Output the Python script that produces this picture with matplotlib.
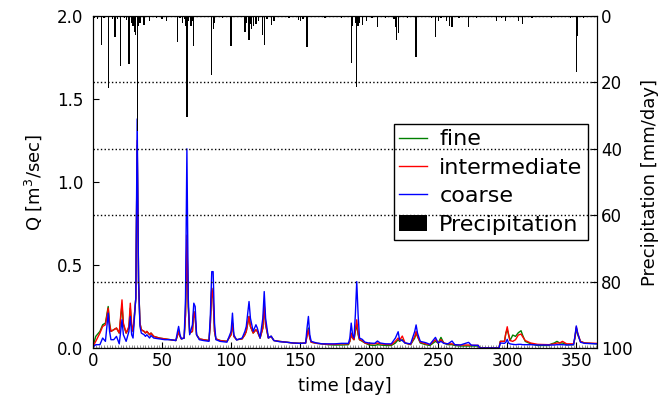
import matplotlib
matplotlib.use("Agg")
import matplotlib.pyplot as plt
from matplotlib.ticker import MultipleLocator

# ---- data ----
days = [0, 2, 5, 7, 9, 11, 12, 13, 15, 17, 19, 21, 22, 24, 26, 27, 28, 29, 31, 32, 33, 34, 35,
        37, 38, 39, 41, 42, 44, 48, 52, 56, 60, 61, 62, 63, 64, 66, 67, 68, 69, 70, 72, 73, 74,
        75, 77, 80, 84, 85, 86, 87, 88, 89, 92, 97, 100, 101, 102, 104, 108, 110, 111, 113,
        114, 116, 118, 119, 121, 123, 124, 125, 127, 129, 131, 135, 140, 145, 150, 154, 155,
        156, 157, 158, 162, 166, 170, 175, 180, 185, 186, 187, 188, 189, 190, 191, 192, 193,
        195, 197, 200, 204, 206, 208, 212, 216, 219, 221, 222, 224, 226, 230, 233, 234, 235,
        237, 241, 244, 248, 250, 252, 254, 257, 260, 262, 266, 272, 274, 279, 280, 294, 295,
        298, 299, 300, 301, 302, 304, 306, 308, 310, 311, 313, 317, 322, 330, 332, 334, 336,
        338, 340, 343, 348, 349, 350, 351, 353, 356, 365]

fine = [0.01, 0.07, 0.10, 0.14, 0.15, 0.25, 0.15, 0.10, 0.11, 0.12, 0.09, 0.26, 0.14, 0.09,
        0.12, 0.24, 0.13, 0.10, 0.30, 1.22, 0.40, 0.15, 0.11,
        0.10, 0.09, 0.10, 0.08, 0.09, 0.07, 0.06, 0.055, 0.05, 0.045, 0.07, 0.10, 0.07, 0.055,
        0.06, 0.20, 0.65, 0.25, 0.09, 0.10, 0.22, 0.18,
        0.08, 0.055, 0.05, 0.045, 0.15, 0.36, 0.30, 0.10, 0.055, 0.045, 0.04, 0.08, 0.15, 0.07,
        0.05, 0.055, 0.08, 0.10, 0.19,
        0.13, 0.09, 0.11, 0.10, 0.06, 0.12, 0.26, 0.14, 0.06, 0.07, 0.045, 0.04, 0.035, 0.03,
        0.028, 0.03, 0.08,
        0.12, 0.06, 0.035, 0.028, 0.025, 0.02, 0.018, 0.018, 0.02, 0.04, 0.08, 0.06, 0.05,
        0.10, 0.14, 0.08, 0.05,
        0.04, 0.03, 0.018, 0.015, 0.02, 0.018, 0.015, 0.015, 0.03, 0.05, 0.04, 0.05, 0.03,
        0.02, 0.06, 0.09, 0.07,
        0.03, 0.02, 0.015, 0.04, 0.03, 0.064, 0.03, 0.02, 0.02, 0.015, 0.012, 0.012, 0.012,
        0.012, 0.0, 0.0, 0.04,
        0.04, 0.09, 0.11, 0.08, 0.045, 0.078, 0.07, 0.092, 0.104, 0.08, 0.04, 0.025, 0.015,
        0.015, 0.025, 0.03, 0.04,
        0.03, 0.03, 0.02, 0.02, 0.06, 0.12, 0.08, 0.04, 0.03, 0.025]

intermediate = [0.01, 0.04, 0.09, 0.13, 0.14, 0.24, 0.14, 0.10, 0.11, 0.12, 0.09, 0.29, 0.15,
                0.09, 0.13, 0.27, 0.14, 0.10, 0.30, 1.25, 0.40, 0.15, 0.11,
                0.10, 0.09, 0.10, 0.08, 0.09, 0.07, 0.06, 0.055, 0.05, 0.045, 0.07, 0.10, 0.07,
                0.055, 0.06, 0.20, 0.68, 0.25, 0.09, 0.10, 0.22, 0.18,
                0.08, 0.055, 0.05, 0.045, 0.15, 0.36, 0.30, 0.10, 0.055, 0.045, 0.04, 0.08, 0.15,
                0.07, 0.05, 0.055, 0.08, 0.10, 0.19,
                0.13, 0.09, 0.11, 0.10, 0.06, 0.12, 0.26, 0.14, 0.06, 0.07, 0.045, 0.04, 0.035,
                0.03, 0.028, 0.03, 0.07,
                0.11, 0.06, 0.035, 0.028, 0.025, 0.022, 0.022, 0.025, 0.025, 0.04, 0.09, 0.06,
                0.05, 0.11, 0.17, 0.09, 0.05,
                0.045, 0.03, 0.025, 0.025, 0.03, 0.025, 0.022, 0.02, 0.04, 0.06, 0.045, 0.072,
                0.03, 0.022, 0.07, 0.10, 0.07,
                0.035, 0.025, 0.02, 0.05, 0.03, 0.05, 0.03, 0.025, 0.025, 0.02, 0.018, 0.018,
                0.016, 0.016, 0.0, 0.0, 0.04,
                0.04, 0.09, 0.128, 0.08, 0.045, 0.04, 0.05, 0.078, 0.084, 0.07, 0.045, 0.03,
                0.022, 0.02, 0.022, 0.025, 0.03,
                0.03, 0.04, 0.025, 0.025, 0.06, 0.127, 0.09, 0.04, 0.03, 0.028]

coarse = [0.005, 0.02, 0.02, 0.06, 0.04, 0.21, 0.10, 0.05, 0.05, 0.07, 0.025, 0.17, 0.08, 0.04,
          0.10, 0.19, 0.08, 0.06, 0.30, 1.38, 0.40, 0.13, 0.09,
          0.08, 0.07, 0.08, 0.06, 0.075, 0.06, 0.055, 0.05, 0.05, 0.045, 0.09, 0.13, 0.08,
          0.055, 0.06, 0.30, 1.20, 0.30, 0.08, 0.14, 0.27, 0.25,
          0.08, 0.05, 0.045, 0.04, 0.20, 0.46, 0.46, 0.15, 0.05, 0.04, 0.035, 0.10, 0.21, 0.08,
          0.048, 0.06, 0.10, 0.13, 0.28,
          0.18, 0.10, 0.14, 0.12, 0.06, 0.18, 0.34, 0.18, 0.06, 0.072, 0.045, 0.038, 0.035,
          0.03, 0.028, 0.03, 0.12,
          0.19, 0.08, 0.04, 0.03, 0.025, 0.025, 0.025, 0.028, 0.028, 0.06, 0.15, 0.08, 0.06,
          0.20, 0.40, 0.20, 0.06,
          0.052, 0.035, 0.03, 0.028, 0.042, 0.03, 0.025, 0.025, 0.06, 0.098, 0.05, 0.045, 0.03,
          0.025, 0.10, 0.139, 0.09,
          0.04, 0.032, 0.022, 0.064, 0.03, 0.04, 0.028, 0.025, 0.042, 0.02, 0.018, 0.034,
          0.017, 0.016, 0.0, 0.0, 0.03,
          0.028, 0.035, 0.052, 0.03, 0.025, 0.022, 0.02, 0.022, 0.022, 0.02, 0.02, 0.02, 0.018,
          0.018, 0.018, 0.018, 0.02,
          0.02, 0.02, 0.018, 0.02, 0.07, 0.133, 0.09, 0.035, 0.028, 0.025]

precip_days = [1, 3, 6, 8, 11, 14, 16, 18, 20, 23, 24, 26, 28, 29, 30, 31, 32, 33, 34, 37, 41,
               46, 50, 53, 57, 61, 63, 65, 66, 67, 68, 69, 71, 72, 73, 79, 86, 87, 88, 94, 100,
               106, 110, 111, 113, 114, 115, 116, 118, 120, 123, 124, 126, 129, 131, 136, 142,
               146, 149, 150, 152, 155, 161, 168, 174, 180, 187, 188, 190, 191, 192, 193, 195,
               198, 202, 206, 212, 218, 219, 220, 221, 228, 234, 240, 245, 248, 250, 252, 256,
               258, 260, 265, 272, 278, 285, 292, 296, 299, 305, 308, 311, 318, 325, 332, 340,
               346, 350, 351, 355, 360]
precip_mm = [0.5, 1, 8.8, 0.5, 21.8, 1, 6.3, 0.8, 15, 0.5, 1.2, 14.5, 2, 3, 4.8, 5.7, 34.6, 3,
             2, 2.6, 1.6, 0.5, 1.0, 1.5, 0.4, 7.8, 0.5, 2, 1, 3, 30.3, 1.5, 3, 1.5, 9.1, 0.4,
             17.8, 4, 2, 0.5, 9.1, 0.4, 4.7, 2, 7.3, 2.5, 4, 3, 2.5, 1.5, 5.7, 8.8, 1, 2.6, 1.5,
             0.4, 0.5, 0.4, 1.2, 1.5, 1, 9.2, 0.4, 0.5, 0.3, 0.5, 14.3, 3, 2, 21.3, 3, 2, 2.7,
             1.5, 0.5, 3.2, 0.5, 1, 3.2, 7.2, 5, 0.5, 12.3, 0.4, 0.5, 6.2, 1.5, 0.5, 1.5, 3,
             3.2, 0.5, 3.2, 0.5, 0.4, 1.5, 0.5, 1.5, 0.4, 1.5, 2.5, 0.5, 0.4, 0.5, 0.4, 0.5,
             16.8, 6, 0.5, 0.4]

x_ticks = [0, 50, 100, 150, 200, 250, 300, 350]
q_ticks = [0.0, 0.5, 1.0, 1.5, 2.0]
p_ticks = [0, 20, 40, 60, 80, 100]

# ---- figure ----
fig = plt.figure(figsize=(6.65, 4.03), dpi=100)
ax = fig.add_axes([93/665, 1-348/403, 504/665, 332/403])
ax2 = ax.twinx()

l1, = ax.plot(days, fine, color="green", lw=1.0, label="fine")
l2, = ax.plot(days, intermediate, color="red", lw=1.0, label="intermediate")
l3, = ax.plot(days, coarse, color="blue", lw=1.0, label="coarse")

bars = ax2.bar(precip_days, precip_mm, width=0.9, color="black", label="Precipitation")

ax.set_xlim(0, 365)
ax.set_ylim(0, 2.0)
ax.set_xticks(x_ticks)
ax.set_yticks(q_ticks)
ax.xaxis.set_minor_locator(MultipleLocator(2))
ax2.set_ylim(100, 0)
ax2.set_yticks(p_ticks)
ax2.grid(axis="y", linestyle=":", color="black", lw=1.0)

ax.tick_params(axis="x", direction="in", labelsize=12, length=4, pad=3)
ax.tick_params(axis="y", direction="in", labelsize=12, length=4, pad=7)
ax.tick_params(axis="x", which="minor", direction="in", length=2, width=0.5, color="0.4")
ax2.tick_params(axis="y", direction="in", labelsize=12, length=4, pad=3)

ax.set_xlabel("time [day]", fontsize=13, labelpad=5)
ax.set_ylabel("Q [m$^3$/sec]", fontsize=13, labelpad=9)
ax2.set_ylabel("Precipitation [mm/day]", fontsize=13, labelpad=6)

leg = ax.legend([l1, l2, l3, bars], ["fine", "intermediate", "coarse", "Precipitation"],
                loc="center right", fontsize=16, fancybox=False, edgecolor="black",
                framealpha=1.0, handlelength=1.25, borderpad=0.25, labelspacing=0.38,
                handletextpad=0.55, borderaxespad=0.4)
leg.get_frame().set_linewidth(1.0)

fig.savefig("out.png", dpi=100)
